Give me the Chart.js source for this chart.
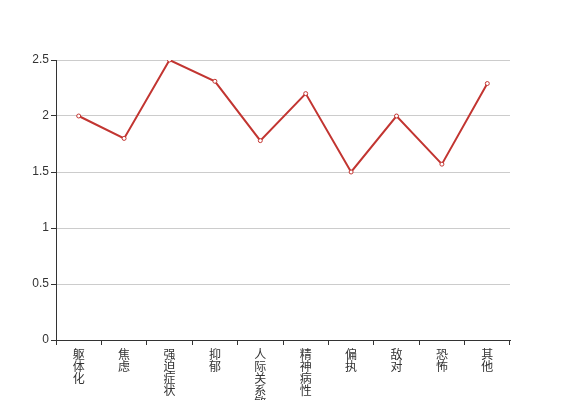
<!DOCTYPE html>
<html>
<head>
<meta charset="utf-8">
<script src="https://cdn.jsdelivr.net/npm/chart.js@4/dist/chart.umd.min.js"></script>
<style>
  html, body { margin: 0; padding: 0; background: #fff; }
  #wrap { width: 567px; height: 400px; }
</style>
</head>
<body>
<div id="wrap"><canvas id="chart"></canvas></div>
<script>
var categories = ["躯体化", "焦虑", "强迫症状", "抑郁", "人际关系敏感", "精神病性", "偏执", "敌对", "恐怖", "其他"];
var values = [2.0, 1.8, 2.5, 2.31, 1.78, 2.2, 1.5, 2.0, 1.57, 2.29];
var yTicks = [0, 0.5, 1, 1.5, 2, 2.5];

// stack each character on its own line
var labels = categories.map(function (c) { return c.split(""); });

var ctx = document.getElementById("chart").getContext("2d");
var lineChart = new Chart(ctx, {
    type: "line",
    data: {
        labels: labels,
        datasets: [
            {
                label: "score",
                data: values,
                fill: false,
                borderColor: "#c23531",
                borderWidth: 2,
                lineTension: 0,
                pointRadius: 2,
                pointBorderWidth: 1,
                pointBackgroundColor: "#fff",
                pointBorderColor: "#c23531"
            }
        ]
    },
    options: {
        responsive: true,
        maintainAspectRatio: false,
        animation: false,
        layout: { padding: { top: 60, right: 57, left: 0, bottom: 0 } },
        plugins: {
            legend: { display: false },
            tooltip: { enabled: false }
        },
        scales: {
            y: {
                min: 0,
                max: 2.5,
                afterBuildTicks: function (scale) {
                    scale.ticks = yTicks.map(function (v) { return { value: v }; });
                },
                afterFit: function (scale) { scale.width = 56; },
                border: { color: "#333", width: 1 },
                grid: {
                    color: "#ccc",
                    tickColor: "#333",
                    tickLength: 5,
                    drawTicks: true
                },
                ticks: {
                    padding: 2,
                    color: "#333",
                    font: { size: 12, family: "Liberation Sans, Arial, sans-serif" },
                    callback: function (v) { return String(v); }
                }
            },
            x: {
                offset: true,
                afterFit: function (scale) { scale.height = 60; },
                border: { color: "#333", width: 1 },
                grid: {
                    offset: true,
                    drawOnChartArea: false,
                    color: "#333",
                    tickLength: 5
                },
                ticks: {
                    maxRotation: 0,
                    autoSkip: false,
                    padding: 3,
                    color: "#333",
                    font: { size: 12, family: "Noto Sans CJK SC", lineHeight: 1 }
                }
            }
        }
    }
});
</script>
</body>
</html>
